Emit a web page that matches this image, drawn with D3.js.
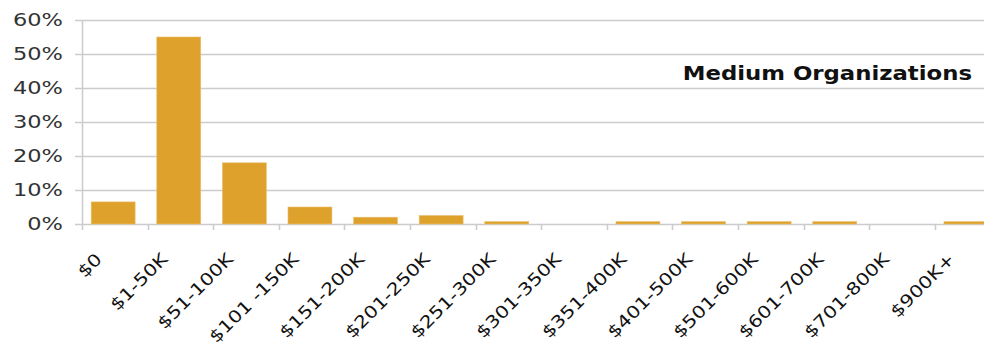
<!DOCTYPE html>
<html>
<head>
<meta charset="utf-8">
<script src="https://cdn.jsdelivr.net/npm/d3@7"></script>
<style>
  html, body { margin: 0; padding: 0; background: #fff; }
  svg { display: block; }
</style>
</head>
<body>
<div id="chart"></div>
<script>
// Share of medium organizations by budget bracket
const categories = ["$0", "$1-50K", "$51-100K", "$101 -150K", "$151-200K", "$201-250K",
  "$251-300K", "$301-350K", "$351-400K", "$401-500K", "$501-600K", "$601-700K",
  "$701-800K", "$900K+"];
const shares = [6.5, 55, 18, 5, 2, 2.5, 0.7, 0, 0.7, 0.7, 0.7, 0.7, 0, 0.7];
const yTicks = [0, 10, 20, 30, 40, 50, 60];
const title = "Medium Organizations";

const W = 984, H = 351;
const margin = { left: 82, top: 20, bottom: 127 };
const plotBottom = H - margin.bottom;
const FONT = "DejaVu Sans, Verdana, sans-serif";

const svg = d3.select("#chart").append("svg")
  .attr("width", W).attr("height", H);

const x = d3.scaleBand()
  .domain(categories)
  .range([margin.left, margin.left + 65.6 * categories.length])
  .paddingInner(0).paddingOuter(0);

const y = d3.scaleLinear().domain([0, 60]).range([plotBottom, margin.top]);

// horizontal gridlines
svg.append("g").selectAll("line").data(yTicks).join("line")
  .attr("x1", margin.left - 7).attr("x2", W)
  .attr("y1", d => Math.round(y(d)) + 0.5).attr("y2", d => Math.round(y(d)) + 0.5)
  .attr("stroke", "#cccccc").attr("stroke-width", 1.6);

// vertical axis line
svg.append("line")
  .attr("x1", margin.left + 0.5).attr("x2", margin.left + 0.5)
  .attr("y1", y(60)).attr("y2", plotBottom + 6)
  .attr("stroke", "#cccccc").attr("stroke-width", 1.6);

// category ticks
svg.append("g").selectAll("line").data(categories.slice(1)).join("line")
  .attr("x1", d => Math.round(x(d)) + 0.5).attr("x2", d => Math.round(x(d)) + 0.5)
  .attr("y1", plotBottom).attr("y2", plotBottom + 6)
  .attr("stroke", "#cccccc").attr("stroke-width", 1.6);

// y tick labels (wide face)
svg.append("g").selectAll("text").data(yTicks).join("text")
  .attr("transform", d => `translate(${margin.left - 19},${y(d)}) scale(1.25,1)`)
  .attr("dy", "0.36em")
  .attr("text-anchor", "end")
  .attr("font-family", FONT)
  .attr("font-size", 18)
  .attr("fill", "#333")
  .text(d => d + "%");

// bars
const bw = x.bandwidth();
svg.append("g").selectAll("rect").data(categories).join("rect")
  .attr("x", d => x(d) + bw * 0.14)
  .attr("width", bw * 0.67)
  .attr("y", (d, i) => y(shares[i]))
  .attr("height", (d, i) => plotBottom - y(shares[i]))
  .attr("fill", "#dea12b")
  .attr("stroke", "#e9c070").attr("stroke-width", 0.6);

// rotated category labels
svg.append("g").selectAll("text").data(categories).join("text")
  .attr("transform", d => `translate(${x(d) + bw / 2 - 16},${plotBottom + 32}) rotate(-45) scale(1.2,1)`)
  .attr("text-anchor", "end")
  .attr("dy", "0.35em")
  .attr("font-family", FONT)
  .attr("font-size", 17)
  .attr("fill", "#111")
  .text(d => d);

// chart title
svg.append("text")
  .attr("transform", "translate(972,80) scale(1.2,1)")
  .attr("text-anchor", "end")
  .attr("font-family", FONT)
  .attr("font-weight", "bold")
  .attr("font-size", 19)
  .attr("fill", "#111")
  .text(title);
</script>
</body>
</html>
